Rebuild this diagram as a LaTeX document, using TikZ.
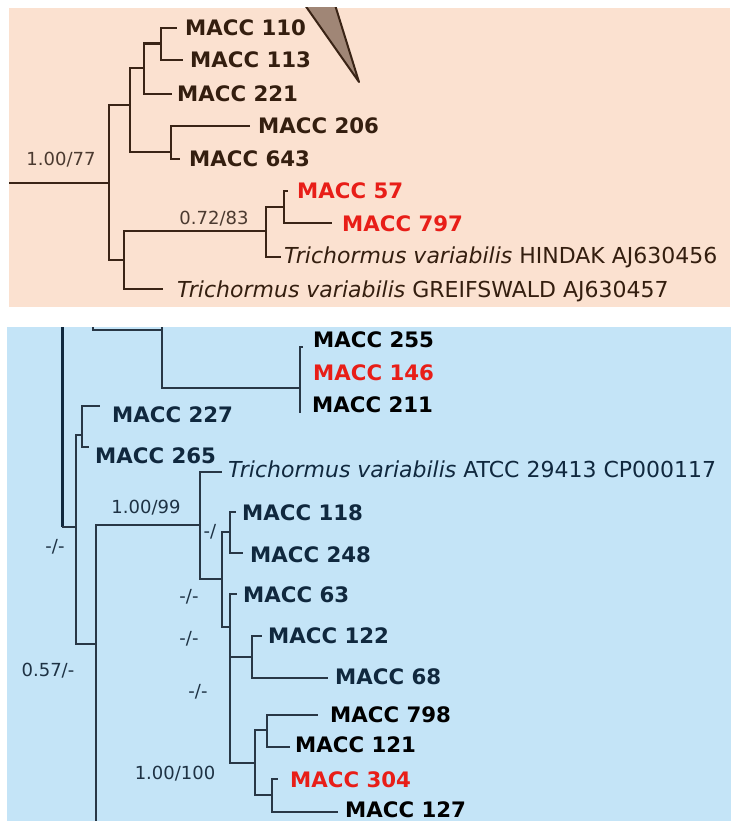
\documentclass[tikz,border=0pt]{standalone}
\usepackage{fontspec}
\setmainfont{DejaVu Sans}
\definecolor{peach}{RGB}{251,225,208}
\definecolor{sky}{RGB}{196,228,247}
\definecolor{brn}{RGB}{58,36,22}
\definecolor{brntxt}{RGB}{52,30,15}
\definecolor{brnsup}{RGB}{75,58,48}
\definecolor{redtxt}{RGB}{232,30,24}
\definecolor{navy}{RGB}{16,40,62}
\definecolor{bline}{RGB}{40,55,70}
\definecolor{bsup}{RGB}{30,50,68}
\definecolor{tri}{RGB}{160,134,118}
\tikzset{
  lab/.style={anchor=west, inner sep=0pt, font=\fontsize{21.3}{21.3}\selectfont\bfseries, text height=15pt, text depth=0pt},
  itl/.style={anchor=west, inner sep=0pt, font=\fontsize{22}{22}\selectfont, text height=15pt, text depth=0pt},
  sp/.style={inner sep=0pt, font=\fontsize{18}{18}\selectfont},
  br/.style={draw=brn, line width=2.2pt},
  bl/.style={draw=bline, line width=1.8pt},
  bthick/.style={draw=navy, line width=3pt}
}
\begin{document}
\begin{tikzpicture}[x=1pt,y=-1pt]
\useasboundingbox (0,0) rectangle (731,821);
\fill[white] (0,0) rectangle (731,821);
\fill[peach] (9,8) rectangle (730,307);
\fill[sky] (7,327) rectangle (731,821);

% collapsed clade triangle (cut by the panel edge)
\begin{scope}
\clip (9,8) rectangle (730,307);
\filldraw[fill=tri, draw=brn, line width=2pt, line join=round] (359,82) -- (301.4,0) -- (333.5,0) -- cycle;
\end{scope}

% ---------- top tree ----------
\coordinate (r0) at (9,182.7);
\coordinate (n1) at (109,182.7);
\coordinate (n2) at (130,105);
\coordinate (n3) at (144,68);
\coordinate (n3a) at (161,43.5);
\coordinate (n4) at (171,151.7);
\coordinate (n5) at (124,260);
\coordinate (n6) at (266,231);
\coordinate (n7) at (284,207);
\coordinate (t110) at (176.7,27.7);
\coordinate (t113) at (182.7,60);
\coordinate (t221) at (172,94);
\coordinate (t206) at (250,126);
\coordinate (t643) at (180,159);
\coordinate (t57) at (288,191);
\coordinate (t797) at (331.7,223);
\coordinate (tHin) at (281,257);
\coordinate (tGre) at (163,289);

\draw[br] (r0) -- (n1);
\draw[br] (n1) |- (n2);
\draw[br] (n1) |- (n5);
\draw[br] (n2) |- (n3);
\draw[br] (n2) |- (n4);
\draw[br] (n3) |- (n3a);
\draw[br] (n3) |- (t221);
\draw[br] (n3a) |- (t110);
\draw[br] (n3a) |- (t113);
\draw[br] (n4) |- (t206);
\draw[br] (n4) |- (t643);
\draw[br] (n5) |- (n6);
\draw[br] (n5) |- (tGre);
\draw[br] (n6) |- (n7);
\draw[br] (n6) |- (tHin);
\draw[br] (n7) |- (t57);
\draw[br] (n7) |- (t797);

\node[lab, text=brntxt] (l110) at (185,27.7) {MACC 110};
\node[lab, text=brntxt] (l113) at (190,60) {MACC 113};
\node[lab, text=brntxt] (l221) at (177,94) {MACC 221};
\node[lab, text=brntxt] (l206) at (258,126) {MACC 206};
\node[lab, text=brntxt] (l643) at (189,159) {MACC 643};
\node[lab, text=redtxt] (l57) at (297,191) {MACC 57};
\node[lab, text=redtxt] (l797) at (342,224) {MACC 797};
\node[itl, text=brntxt] (lHin) at (284,256) {\itshape Trichormus variabilis\upshape{} HINDAK AJ630456};
\node[itl, text=brntxt] (lGre) at (177,290) {\itshape Trichormus variabilis\upshape{} GREIFSWALD AJ630457};

\node[sp, text=brnsup] (s1) at (61,160) {1.00/77};
\node[sp, text=brnsup] (s2) at (214,219) {0.72/83};

% ---------- bottom tree ----------
\coordinate (c0) at (93,327);
\coordinate (c1) at (162,330);
\coordinate (c2) at (162,327);
\coordinate (c3) at (300,388);
\coordinate (p255) at (303,347);
\coordinate (p211) at (300,413);
\draw[bl] (c0) |- (c1);
\draw[bl] (c2) |- (c3);
\draw[bl] (c3) |- (p255);
\draw[bl] (c3) -- (p211);

\coordinate (b0) at (62,327);
\coordinate (b0b) at (62,527);
\coordinate (b1) at (76,527);
\coordinate (b2) at (82,435);
\coordinate (b3) at (96,644);
\coordinate (bbot) at (96,821);
\coordinate (b4) at (200,525);
\coordinate (b5) at (222,579);
\coordinate (b6) at (230,532);
\coordinate (b7) at (230,627);
\coordinate (b8) at (252,657);
\coordinate (b9) at (255,763);
\coordinate (b10) at (267,730);
\coordinate (b11) at (272,795);
\coordinate (t227) at (100,406);
\coordinate (t265) at (89,447);
\coordinate (tATCC) at (222,472);
\coordinate (t118) at (236,512);
\coordinate (t248) at (243,553);
\coordinate (t63) at (237,594);
\coordinate (t122) at (262,636);
\coordinate (t68) at (328,678);
\coordinate (t798) at (318,715);
\coordinate (t121) at (290,747);
\coordinate (t304) at (278,779);
\coordinate (t127) at (338,812);

\draw[bthick] (b0) -- (b0b);
\draw[bl] (b0b) -- (b1);
\draw[bl] (b1) |- (b2);
\draw[bl] (b1) |- (b3);
\draw[bl] (b2) |- (t227);
\draw[bl] (b2) |- (t265);
\draw[bl] (b3) -- (bbot);
\draw[bl] (b3) |- (b4);
\draw[bl] (b4) |- (tATCC);
\draw[bl] (b4) |- (b5);
\draw[bl] (b5) |- (b6);
\draw[bl] (b5) |- (b7);
\draw[bl] (b6) |- (t118);
\draw[bl] (b6) |- (t248);
\draw[bl] (b7) |- (t63);
\draw[bl] (b7) |- (b8);
\draw[bl] (b7) |- (b9);
\draw[bl] (b8) |- (t122);
\draw[bl] (b8) |- (t68);
\draw[bl] (b9) |- (b10);
\draw[bl] (b9) |- (b11);
\draw[bl] (b10) |- (t798);
\draw[bl] (b10) |- (t121);
\draw[bl] (b11) |- (t304);
\draw[bl] (b11) |- (t127);

\node[lab, text=black] (l255) at (313,340) {MACC 255};
\node[lab, text=redtxt] (l146) at (313,373) {MACC 146};
\node[lab, text=black] (l211) at (312,405) {MACC 211};
\node[lab, text=navy] (l227) at (112,415) {MACC 227};
\node[lab, text=navy] (l265) at (95,456) {MACC 265};
\node[itl, text=navy] (lATCC) at (228,470) {\itshape Trichormus variabilis\upshape{} ATCC 29413 CP000117};
\node[lab, text=navy] (l118) at (242,512.5) {MACC 118};
\node[lab, text=navy] (l248) at (250,554.5) {MACC 248};
\node[lab, text=navy] (l63) at (243,594.5) {MACC 63};
\node[lab, text=navy] (l122) at (268,636) {MACC 122};
\node[lab, text=navy] (l68) at (335,677) {MACC 68};
\node[lab, text=black] (l798) at (330,714.5) {MACC 798};
\node[lab, text=black] (l121) at (295,745) {MACC 121};
\node[lab, text=redtxt] (l304) at (290,779.5) {MACC 304};
\node[lab, text=black] (l127) at (345,810) {MACC 127};

\node[sp, text=bsup] (s3) at (146,508) {1.00/99};
\node[sp, text=bsup] (s4) at (210,532) {-/};
\node[sp, text=bsup] (s5) at (189,597) {-/-};
\node[sp, text=bsup] (s6) at (189,639) {-/-};
\node[sp, text=bsup] (s7) at (198,692) {-/-};
\node[sp, text=bsup] (s8) at (175,774) {1.00/100};
\node[sp, text=bsup] (s9) at (55,547) {-/-};
\node[sp, text=bsup] (s10) at (48,671) {0.57/-};
\end{tikzpicture}
\end{document}
